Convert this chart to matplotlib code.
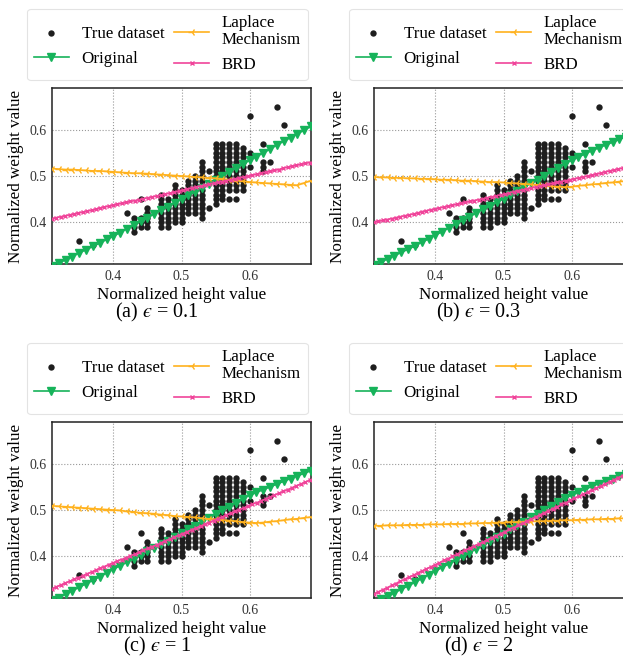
import matplotlib
matplotlib.use('Agg')
import matplotlib.pyplot as plt

plt.rcParams['font.family'] = ['Liberation Serif', 'DejaVu Serif']
plt.rcParams['mathtext.fontset'] = 'stix'

GREEN = '#16b35a'
ORANGE = '#ffb21e'
PINK = '#f0449a'

# true dataset: one column of weights per height value
true_height = [0.35, 0.37, 0.42, 0.43, 0.44, 0.45, 0.47, 0.48, 0.49, 0.50, 0.51, 0.52,
               0.53, 0.54, 0.55, 0.56, 0.57, 0.58, 0.59, 0.60, 0.62, 0.63, 0.64, 0.65]
true_weight = [
    [0.36],
    [0.35],
    [0.42],
    [0.41, 0.40, 0.39, 0.38],
    [0.45, 0.41, 0.40, 0.39],
    [0.43, 0.42, 0.41, 0.40, 0.39],
    [0.46, 0.45, 0.44, 0.43, 0.42, 0.41, 0.40, 0.39],
    [0.45, 0.44, 0.43, 0.42, 0.41, 0.40, 0.39],
    [0.48, 0.47, 0.46, 0.45, 0.44, 0.43, 0.42, 0.41, 0.40],
    [0.47, 0.46, 0.45, 0.44, 0.43, 0.42, 0.41, 0.40],
    [0.49, 0.48, 0.47, 0.46, 0.45, 0.44, 0.43, 0.42],
    [0.50, 0.49, 0.48, 0.47, 0.46, 0.45, 0.44, 0.43, 0.42],
    [0.53, 0.52, 0.51, 0.50, 0.49, 0.48, 0.47, 0.46, 0.45, 0.44, 0.43, 0.42, 0.41],
    [0.51, 0.43],
    [0.57, 0.56, 0.55, 0.54, 0.53, 0.52, 0.51, 0.50, 0.49, 0.48, 0.47, 0.46, 0.45, 0.44],
    [0.57, 0.56, 0.55, 0.54, 0.53, 0.52, 0.51, 0.50, 0.49, 0.48, 0.47, 0.46, 0.45],
    [0.57, 0.56, 0.55, 0.54, 0.53, 0.52, 0.51, 0.50, 0.49, 0.48, 0.47, 0.45],
    [0.57, 0.56, 0.55, 0.54, 0.53, 0.52, 0.51, 0.50, 0.49, 0.48, 0.47, 0.45],
    [0.56, 0.55, 0.54, 0.53, 0.52, 0.51, 0.50, 0.49, 0.48, 0.47],
    [0.63, 0.55, 0.52],
    [0.57, 0.53, 0.52, 0.51],
    [0.53],
    [0.65],
    [0.61],
]

# evaluation grid of Original / Laplace curves
grid_x = [0.31, 0.32, 0.33, 0.34, 0.35, 0.36, 0.37, 0.38, 0.39, 0.40, 0.41, 0.42, 0.43,
          0.44, 0.45, 0.46, 0.47, 0.48, 0.49, 0.50, 0.51, 0.52, 0.53, 0.54, 0.55, 0.56,
          0.57, 0.58, 0.59, 0.60, 0.61, 0.62, 0.63, 0.64, 0.65, 0.66, 0.67, 0.68, 0.69]
# evaluation grid of BRD curves
brd_x = [0.310, 0.316, 0.323, 0.329, 0.336, 0.342, 0.348, 0.355, 0.361, 0.368, 0.374,
         0.380, 0.387, 0.393, 0.400, 0.406, 0.412, 0.419, 0.425, 0.432, 0.438, 0.444,
         0.451, 0.457, 0.464, 0.470, 0.476, 0.483, 0.489, 0.496, 0.502, 0.508, 0.515,
         0.521, 0.528, 0.534, 0.540, 0.547, 0.553, 0.560, 0.566, 0.572, 0.579, 0.585,
         0.592, 0.598, 0.604, 0.611, 0.617, 0.624, 0.630, 0.636, 0.643, 0.649, 0.656,
         0.662, 0.668, 0.675, 0.681, 0.688, 0.694]

# (a) eps = 0.1
orig_a = [0.305, 0.312, 0.319, 0.326, 0.334, 0.341, 0.348, 0.355, 0.363, 0.370, 0.378, 0.386, 0.394,
          0.402, 0.410, 0.418, 0.426, 0.434, 0.442, 0.450, 0.458, 0.466, 0.474, 0.483, 0.491, 0.500,
          0.508, 0.517, 0.525, 0.534, 0.542, 0.550, 0.558, 0.567, 0.575, 0.583, 0.591, 0.599, 0.607]
lap_a = [0.516, 0.515, 0.514, 0.514, 0.513, 0.512, 0.511, 0.511, 0.510, 0.509, 0.508, 0.507, 0.506,
         0.506, 0.505, 0.504, 0.503, 0.502, 0.501, 0.500, 0.499, 0.498, 0.497, 0.496, 0.495, 0.494,
         0.492, 0.490, 0.489, 0.487, 0.486, 0.485, 0.484, 0.483, 0.482, 0.481, 0.480, 0.485, 0.490]
brd_a = [0.408, 0.410, 0.412, 0.414, 0.416, 0.418, 0.420, 0.422, 0.424, 0.426, 0.428, 0.431, 0.433,
         0.435, 0.437, 0.439, 0.441, 0.443, 0.445, 0.447, 0.449, 0.451, 0.453, 0.455, 0.457, 0.459,
         0.461, 0.463, 0.465, 0.467, 0.469, 0.471, 0.474, 0.476, 0.478, 0.480, 0.482, 0.484, 0.486,
         0.488, 0.490, 0.492, 0.494, 0.496, 0.498, 0.500, 0.502, 0.504, 0.506, 0.508, 0.510, 0.512,
         0.514, 0.517, 0.519, 0.521, 0.523, 0.525, 0.527, 0.529, 0.531]

# (b) eps = 0.3
orig_b = [0.307, 0.314, 0.321, 0.328, 0.335, 0.342, 0.349, 0.357, 0.364, 0.372, 0.380, 0.388, 0.396,
          0.404, 0.412, 0.420, 0.428, 0.435, 0.443, 0.451, 0.459, 0.467, 0.476, 0.484, 0.492, 0.500,
          0.509, 0.517, 0.526, 0.534, 0.541, 0.548, 0.555, 0.561, 0.567, 0.573, 0.579, 0.585, 0.590]
lap_b = [0.498, 0.497, 0.497, 0.496, 0.496, 0.495, 0.495, 0.494, 0.494, 0.493, 0.492, 0.492, 0.491,
         0.490, 0.490, 0.489, 0.488, 0.487, 0.487, 0.486, 0.485, 0.484, 0.483, 0.482, 0.481, 0.480,
         0.478, 0.477, 0.476, 0.477, 0.479, 0.480, 0.482, 0.483, 0.485, 0.486, 0.488, 0.489, 0.491]
brd_b = [0.400, 0.402, 0.404, 0.406, 0.408, 0.410, 0.412, 0.414, 0.416, 0.418, 0.420, 0.423, 0.425,
         0.427, 0.429, 0.431, 0.433, 0.435, 0.437, 0.439, 0.441, 0.443, 0.445, 0.447, 0.449, 0.451,
         0.453, 0.455, 0.457, 0.459, 0.461, 0.463, 0.466, 0.468, 0.470, 0.472, 0.474, 0.476, 0.478,
         0.480, 0.482, 0.484, 0.486, 0.488, 0.490, 0.492, 0.494, 0.496, 0.498, 0.500, 0.502, 0.504,
         0.506, 0.509, 0.511, 0.513, 0.515, 0.517, 0.519, 0.521, 0.523]

# (c) eps = 1
orig_c = [0.305, 0.311, 0.318, 0.326, 0.333, 0.341, 0.348, 0.356, 0.364, 0.372, 0.380, 0.387, 0.395,
          0.403, 0.411, 0.419, 0.426, 0.434, 0.442, 0.450, 0.458, 0.466, 0.474, 0.483, 0.491, 0.499,
          0.507, 0.516, 0.524, 0.532, 0.538, 0.544, 0.550, 0.556, 0.562, 0.568, 0.574, 0.579, 0.585]
lap_c = [0.509, 0.508, 0.507, 0.506, 0.505, 0.504, 0.503, 0.502, 0.501, 0.500, 0.499, 0.497, 0.496,
         0.494, 0.493, 0.492, 0.490, 0.489, 0.487, 0.486, 0.485, 0.484, 0.482, 0.481, 0.480, 0.479,
         0.477, 0.476, 0.474, 0.473, 0.472, 0.473, 0.475, 0.476, 0.478, 0.480, 0.481, 0.483, 0.485]
brd_c = [0.330, 0.334, 0.338, 0.342, 0.346, 0.350, 0.354, 0.358, 0.362, 0.366, 0.370, 0.374, 0.378,
         0.382, 0.386, 0.390, 0.393, 0.397, 0.401, 0.405, 0.409, 0.413, 0.417, 0.421, 0.425, 0.429,
         0.433, 0.437, 0.441, 0.445, 0.449, 0.453, 0.457, 0.461, 0.465, 0.469, 0.473, 0.477, 0.481,
         0.485, 0.489, 0.493, 0.497, 0.501, 0.505, 0.509, 0.513, 0.516, 0.520, 0.524, 0.528, 0.532,
         0.536, 0.540, 0.544, 0.548, 0.552, 0.556, 0.560, 0.564, 0.568]

# (d) eps = 2
orig_d = [0.300, 0.307, 0.314, 0.321, 0.329, 0.336, 0.344, 0.352, 0.360, 0.368, 0.376, 0.384, 0.392,
          0.400, 0.408, 0.416, 0.424, 0.432, 0.441, 0.449, 0.458, 0.467, 0.475, 0.484, 0.492, 0.501,
          0.509, 0.517, 0.525, 0.532, 0.539, 0.545, 0.551, 0.557, 0.563, 0.568, 0.573, 0.578, 0.583]
lap_d = [0.466, 0.466, 0.467, 0.467, 0.467, 0.468, 0.468, 0.468, 0.469, 0.469, 0.469, 0.470, 0.470,
         0.470, 0.471, 0.471, 0.472, 0.472, 0.473, 0.473, 0.474, 0.474, 0.475, 0.475, 0.476, 0.476,
         0.477, 0.477, 0.478, 0.478, 0.479, 0.479, 0.480, 0.480, 0.481, 0.481, 0.482, 0.482, 0.483]
brd_d = [0.319, 0.323, 0.328, 0.332, 0.337, 0.341, 0.346, 0.350, 0.355, 0.359, 0.364, 0.368, 0.373,
         0.377, 0.382, 0.386, 0.391, 0.395, 0.400, 0.404, 0.409, 0.413, 0.418, 0.422, 0.427, 0.431,
         0.435, 0.440, 0.444, 0.449, 0.453, 0.458, 0.462, 0.467, 0.471, 0.476, 0.480, 0.485, 0.489,
         0.494, 0.498, 0.503, 0.507, 0.512, 0.516, 0.521, 0.525, 0.530, 0.534, 0.539, 0.543, 0.547,
         0.552, 0.556, 0.561, 0.565, 0.570, 0.574, 0.579, 0.583, 0.588]

captions = ['(a) $\u03f5$ = 0.1', '(b) $\u03f5$ = 0.3', '(c) $\u03f5$ = 1', '(d) $\u03f5$ = 2']
ticks = [0.4, 0.5, 0.6]

pts_x = [h for h, ws in zip(true_height, true_weight) for w in ws]
pts_y = [w for h, ws in zip(true_height, true_weight) for w in ws]


def draw(ax, orig, lap, brd, caption):
    ax.scatter(pts_x, pts_y, s=21, color='#1e1e1e', linewidths=0, zorder=3, label='True dataset')
    ax.plot(grid_x, orig, color=GREEN, marker='v', ms=5.5, lw=1.2, zorder=4, label='Original')
    ax.plot(grid_x, lap, color=ORANGE, marker='3', ms=6, lw=1.2, zorder=4, label='Laplace\nMechanism')
    ax.plot(brd_x, brd, color=PINK, marker='x', ms=3.5, mew=1, lw=1.2, zorder=4, label='BRD')
    ax.set_xlim(0.31, 0.69)
    ax.set_ylim(0.31, 0.69)
    ax.set_xticks(ticks)
    ax.set_yticks(ticks)
    ax.tick_params(length=0, labelsize=10, colors='#333333', pad=4)
    ax.grid(True, ls=':', color='#999999', lw=0.8)
    for s in ax.spines.values():
        s.set_color('#222222')
        s.set_linewidth(1.1)
    ax.set_xlabel('Normalized height value', fontsize=12.3, labelpad=3)
    ax.set_ylabel('Normalized weight value', fontsize=12.3, labelpad=4)
    leg = ax.legend(ncol=2, loc='lower center', bbox_to_anchor=(0.446, 1.045), borderaxespad=0,
                    fontsize=12.2, frameon=True, fancybox=True, edgecolor='#dddddd',
                    handlelength=2.05, columnspacing=0.6, handletextpad=0.75, labelspacing=0.55,
                    borderpad=0.4, scatterpoints=1, numpoints=1)
    leg.get_frame().set_linewidth(0.8)
    for t in leg.get_texts():
        t.set_linespacing(1.05)
    ax.text(0.405, -0.278, caption, transform=ax.transAxes, ha='center', va='center', fontsize=14.5)


fig = plt.figure(figsize=(6.23, 6.60), dpi=100)
positions = [(52, 88), (374, 88), (52, 422), (374, 422)]
series = [(orig_a, lap_a, brd_a), (orig_b, lap_b, brd_b), (orig_c, lap_c, brd_c), (orig_d, lap_d, brd_d)]
for (x0, y0), (o, l, b), cap in zip(positions, series, captions):
    ax = fig.add_axes([x0 / 623, 1 - (y0 + 176) / 660, 259 / 623, 176 / 660])
    draw(ax, o, l, b, cap)

fig.savefig('out.png', dpi=100)
